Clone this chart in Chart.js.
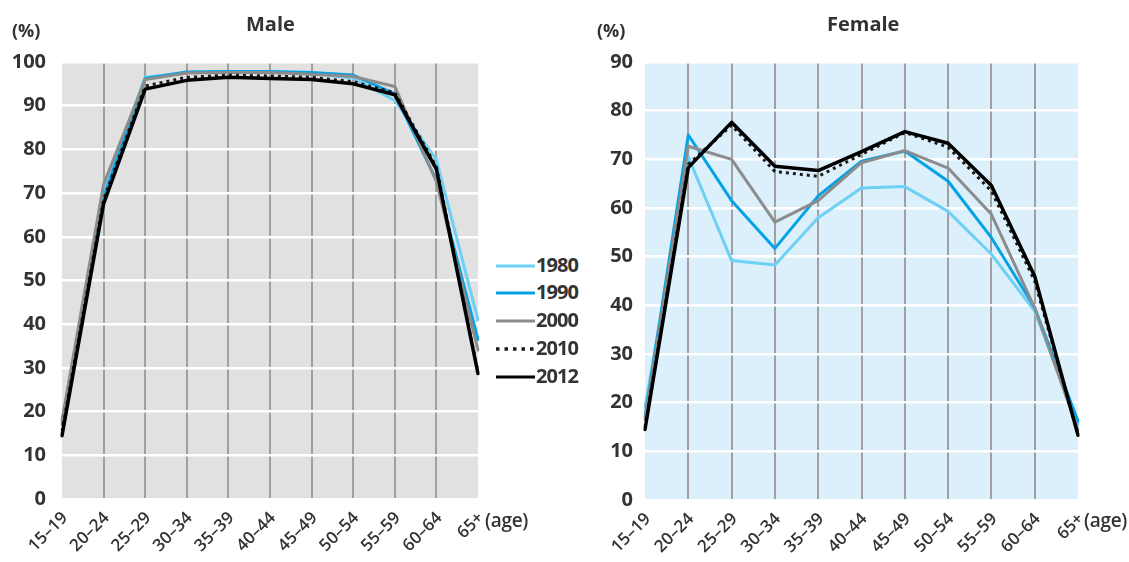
<!DOCTYPE html>
<html><head><meta charset="utf-8">
<script src="https://cdn.jsdelivr.net/npm/chart.js@4.4.1/dist/chart.umd.min.js"></script>
<style>
html,body{margin:0;padding:0;background:#fff;width:1129px;height:562px;overflow:hidden;font-family:'Open Sans',sans-serif;color:#333;}
.txt{position:absolute;font-weight:700;white-space:nowrap;line-height:1;}
#c1{position:absolute;left:0;top:0;}
#c2{position:absolute;left:585px;top:0;}
.leg{position:absolute;left:495px;height:20px;}
.leg svg{position:absolute;left:0;top:0;}
.leg span{position:absolute;left:41px;top:-1px;font-size:20px;font-weight:700;letter-spacing:-0.9px;line-height:20px;}
</style></head>
<body>
<canvas id="c1" width="490" height="562"></canvas>
<canvas id="c2" width="544" height="562"></canvas>
<div class="txt" style="left:246px;top:14px;font-size:20px;">Male</div>
<div class="txt" style="left:827px;top:14px;font-size:20px;">Female</div>
<div class="txt" style="left:12px;top:21px;font-size:18px;">(%)</div>
<div class="txt" style="left:597px;top:21px;font-size:18px;">(%)</div>
<div class="txt" style="left:485px;top:511px;font-size:19px;font-weight:600;letter-spacing:-0.3px;">(age)</div>
<div class="txt" style="left:1084px;top:511px;font-size:19px;font-weight:600;letter-spacing:-0.3px;">(age)</div>
<div id="legend"></div>
<script>
const categories = ['15–19','20–24','25–29','30–34','35–39','40–44','45–49','50–54','55–59','60–64','65+'];
const years = ['1980','1990','2000','2010','2012'];
const male1980 = [17.5, 70.0, 96.5, 97.6, 97.7, 97.7, 97.4, 96.3, 91.2, 77.6, 41.0];
const male1990 = [17.0, 69.0, 96.2, 97.7, 97.8, 97.8, 97.6, 97.0, 92.7, 72.9, 36.5];
const male2000 = [18.0, 72.0, 96.0, 97.5, 97.6, 97.6, 97.2, 96.7, 94.4, 72.6, 34.1];
const male2010 = [15.5, 68.5, 94.5, 96.5, 97.0, 96.8, 96.5, 95.5, 93.0, 76.0, 29.0];
const male2012 = [14.5, 67.5, 93.8, 95.8, 96.5, 96.2, 96.0, 95.0, 92.5, 75.5, 28.7];
const female1980 = [19.0, 70.5, 49.2, 48.3, 58.0, 64.1, 64.4, 59.3, 50.5, 38.8, 15.5];
const female1990 = [17.0, 75.0, 61.5, 51.7, 62.5, 69.6, 71.7, 65.5, 53.9, 39.5, 16.2];
const female2000 = [16.5, 72.7, 70.0, 57.1, 61.5, 69.3, 71.8, 68.2, 58.7, 39.5, 14.4];
const female2010 = [15.0, 69.0, 77.0, 67.5, 66.5, 71.0, 75.5, 72.5, 63.5, 45.0, 13.4];
const female2012 = [14.5, 68.3, 77.6, 68.6, 67.7, 71.6, 75.7, 73.3, 64.6, 46.0, 13.3];
const maleTicks = [0,10,20,30,40,50,60,70,80,90,100];
const femaleTicks = [0,10,20,30,40,50,60,70,80,90];

const styles = [
  {color:'#6fd0f6', width:3, dash:[], order:5},
  {color:'#05a2e6', width:3, dash:[], order:4},
  {color:'#8c8c8c', width:3, dash:[], order:3},
  {color:'#1a1a1a', width:3, dash:[3,4], order:2},
  {color:'#000000', width:3.5, dash:[], order:1}
];

// HTML legend
const legTops = [256, 283, 311, 339, 367];
const legendEl = document.getElementById('legend');
years.forEach((y,i)=>{
  const d = document.createElement('div');
  d.className='leg'; d.style.top = legTops[i]+'px';
  const s = styles[i];
  d.innerHTML = '<svg width="42" height="20"><line x1="1" y1="10" x2="40" y2="10" stroke="'+s.color+'" stroke-width="'+(i===3?3.5:3)+'" '+(i===3?'stroke-dasharray="3.5,5"':'')+'/></svg><span>'+y+'</span>';
  legendEl.appendChild(d);
});

Chart.defaults.font.family = "'Open Sans', sans-serif";
Chart.defaults.font.weight = '700';
Chart.defaults.color = '#333';

const bgPlugin = {
  id:'bg',
  beforeDraw(chart, args, opts){
    const a = chart.chartArea, c = chart.ctx;
    c.save(); c.fillStyle = opts.color; c.fillRect(a.left, a.top, a.right-a.left, a.bottom-a.top); c.restore();
  }
};

function makeChart(id, series, ticks, bg, yW, xH, padRight, yPad){
  const ds = series.map((d,i)=>({
    label: years[i], data: d, borderColor: styles[i].color, backgroundColor: styles[i].color,
    borderWidth: styles[i].width, borderDash: styles[i].dash, order: styles[i].order,
    pointRadius: 0, tension: 0, fill: false, borderCapStyle: i===3?'butt':'round', borderJoinStyle:'round'
  }));
  return new Chart(document.getElementById(id), {
    type:'line',
    data:{labels: categories, datasets: ds},
    plugins:[bgPlugin],
    options:{
      responsive:false, animation:false, events:[],
      layout:{padding:{top:62, right:padRight, left:0, bottom:0}},
      plugins:{legend:{display:false}, tooltip:{enabled:false}, title:{display:false}, bg:{color:bg}},
      scales:{
        x:{
          offset:false,
          grid:{color:(ctx)=> (ctx.index===0||ctx.index===categories.length-1)?'rgba(0,0,0,0)':'#a0a0a0', lineWidth:2, drawTicks:false},
          border:{display:false},
          ticks:{maxRotation:45, minRotation:45, autoSkip:false, padding:9, labelOffset:3, font:{size:17, weight:'600'}, color:'#333'},
          afterFit(s){ s.height = xH; s.paddingRight = 0; s.paddingLeft = 0; }
        },
        y:{
          min:0, max:ticks[ticks.length-1],
          afterBuildTicks(s){ s.ticks = ticks.map(v=>({value:v})); },
          grid:{color:'#ffffff', lineWidth:2.5, drawTicks:false},
          border:{display:false},
          ticks:{padding:yPad, font:{size:20, weight:'700'}, color:'#333'},
          afterFit(s){ s.width = yW; }
        }
      }
    }
  });
}

makeChart('c1', [male1980, male1990, male2000, male2010, male2012], maleTicks, '#e1e1e1', 62, 63, 12, 16);
makeChart('c2', [female1980, female1990, female2000, female2010, female2012], femaleTicks, '#dcf0fc', 60, 62, 51, 12);
</script>
</body></html>
